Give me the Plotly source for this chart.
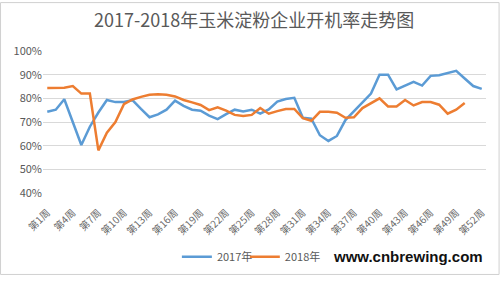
import plotly.graph_objects as go

weeks = list(range(1, 53))
tick_weeks = list(range(1, 53, 3))
tick_labels = [f"第{w}周" for w in tick_weeks]

rate_2017 = [74.3, 75.2, 79.6, 70.0, 60.3, 68.0, 74.0, 79.3, 78.4, 78.5,
             79.2, 75.5, 72.0, 73.2, 75.2, 79.0, 76.8, 75.2, 74.8, 72.7,
             71.2, 73.3, 75.2, 74.4, 75.2, 73.5, 75.3, 78.6, 79.7, 80.2,
             71.8, 71.4, 64.4, 62.0, 64.1, 70.8, 74.5, 78.5, 82.0, 90.0,
             90.0, 83.8, 85.4, 87.0, 85.4, 89.5, 89.8, 90.6, 91.6, 88.4,
             85.2, 84.0]

rate_2018 = [84.4, 84.3, 84.5, 85.2, 82.0, 82.0, 58.0, 65.5, 70.0, 77.5,
             79.5, 80.6, 81.5, 81.7, 81.5, 80.8, 79.3, 78.3, 77.2, 75.0,
             76.2, 74.8, 73.0, 72.5, 73.0, 75.9, 73.5, 74.6, 75.5, 75.5,
             71.6, 70.5, 74.3, 74.3, 73.9, 71.8, 72.0, 75.9, 78.0, 80.0,
             76.6, 76.6, 79.3, 77.0, 78.4, 78.4, 77.3, 73.5, 75.2, 78.0,
             None, None]

series_names = ["2017年", "2018年"]
colors = ["#5b9bd5", "#ed7d31"]
legend_ids = ["legend", "legend2"]

fig = go.Figure()
for name, vals, c, lg in zip(series_names, [rate_2017, rate_2018], colors, legend_ids):
    fig.add_trace(go.Scatter(x=weeks, y=vals, mode="lines", name=name, legend=lg,
                             line=dict(color=c, width=2.5), connectgaps=False))

L, R, T, B = 43, 13.6, 50.7, 85
W, H = 500, 283
pw, ph = W - L - R, H - T - B

def px(x):
    return (x - L) / pw

def py(y):
    return (H - B - y) / ph

font_cn = "Noto Sans CJK SC, Liberation Sans, sans-serif"

def legend_at(xpix):
    return dict(orientation="h", x=px(xpix), y=py(264), xanchor="left", yanchor="middle",
                font=dict(size=11, color="#595959"), bgcolor="rgba(0,0,0,0)")

fig.update_layout(
    width=W, height=H,
    margin=dict(l=L, r=R, t=T, b=B),
    paper_bgcolor="white", plot_bgcolor="white",
    font=dict(family=font_cn, color="#595959", size=11),
    showlegend=True,
    legend=legend_at(177),
    legend2=legend_at(245),
    xaxis=dict(range=[0.5, 52.5], tickvals=tick_weeks, ticktext=tick_labels,
               tickangle=-45, showgrid=False, zeroline=False,
               showline=False, ticks="", ticklabelstandoff=11,
               tickfont=dict(size=10, color="#6a6a6a")),
    yaxis=dict(range=[40, 100], tickvals=[40, 50, 60, 70, 80, 90, 100],
               ticktext=["40%", "50%", "60%", "70%", "80%", "90%", "100%"],
               showgrid=True, gridcolor="#d9d9d9", gridwidth=1, zeroline=False,
               ticks="", showline=False, tickfont=dict(size=11, color="#595959")),
    annotations=[
        dict(text="2017-2018年玉米淀粉企业开机率走势图", xref="paper", yref="paper",
             x=px(254), y=py(18), xanchor="center", yanchor="middle", showarrow=False,
             font=dict(size=18, color="#595959", family=font_cn)),
        dict(text="<b>www.cnbrewing.com</b>", xref="paper", yref="paper",
             x=px(408), y=py(264), xanchor="center", yanchor="middle", showarrow=False,
             font=dict(size=15, color="#111111", family="Liberation Sans, Arial, sans-serif")),
    ],
    shapes=[
        dict(type="rect", xref="paper", yref="paper",
             x0=px(0.5), x1=px(499.5), y0=py(282.5), y1=py(0.5),
             line=dict(color="#d0d0d0", width=1), layer="below"),
    ],
)

fig.write_html("out.html")
